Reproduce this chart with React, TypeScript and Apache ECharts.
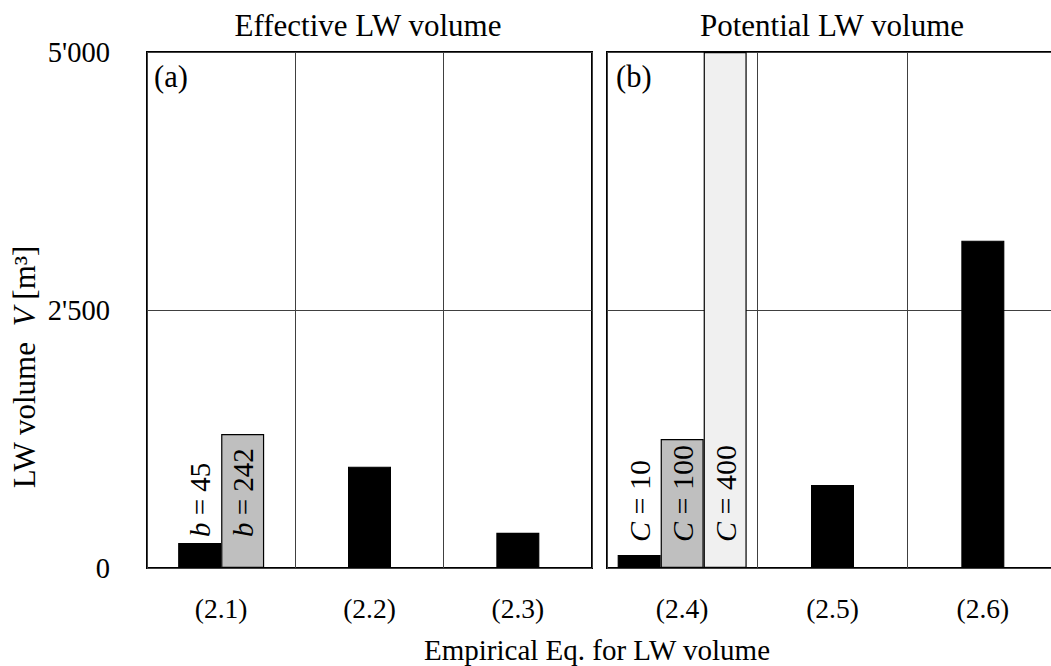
import React, { useEffect, useRef } from "react";
import * as echarts from "echarts";

// Category labels (equation numbers) for the two panels
const effectiveCats = ["(2.1)", "(2.2)", "(2.3)"];
const potentialCats = ["(2.4)", "(2.5)", "(2.6)"];

// Effective LW volume [m³]
const effectiveEq = [null, 982, 342]; // (2.2), (2.3)
const effectiveBWidth = [45, 242]; // b parameter for (2.1)
const effectiveB45 = [242, null, null];
const effectiveB242 = [1298, null, null];

// Potential LW volume [m³]
const potentialEq = [null, 804, 3172]; // (2.5), (2.6)
const potentialCoeff = [10, 100, 400]; // C parameter for (2.4)
const potentialC10 = [126, null, null];
const potentialC100 = [1250, null, null];
const potentialC400 = [5000, null, null];

// Value axis
const yMin = 0;
const yMax = 5000;
const yStep = 2500;

const FONT = "Liberation Serif";
const FS_TICK_X = 27.5;
const FS_TICK_Y = 28.5;
const FS_PARAM_B = 29;
const FS_PARAM_C = 30;
const FS_TITLE = 31;
const FS_XNAME = 29;
const FS_YNAME = 31;
const FS_PANEL = 30.5;

const fmtThousands = (v: number) =>
  String(v).replace(/(\d)(?=(\d{3})+$)/g, "$1'");

const gridLine = { show: true, lineStyle: { color: "#404040", width: 1 } };

function paramLabel(sym: string, val: number, distance: number, fs: number) {
  return {
    show: true,
    position: "insideBottom",
    rotate: 90,
    align: "left",
    verticalAlign: "middle",
    distance,
    formatter: `{i|${sym}} = ${val}`,
    color: "#000",
    fontFamily: FONT,
    fontSize: fs,
    rich: {
      i: { fontStyle: "italic", fontFamily: FONT, fontSize: fs, color: "#000" },
    },
  };
}

function barStyle(color: string) {
  return { color, borderColor: "#000", borderWidth: 1.2 };
}

export default function App() {
  const ref = useRef<HTMLDivElement>(null);

  useEffect(() => {
    if (!ref.current) return;
    const chart = echarts.init(ref.current, null, { renderer: "svg" });

    const catAxis = (gridIndex: number, data: string[], visible: boolean) => ({
      type: "category",
      gridIndex,
      data,
      show: visible,
      axisLine: { show: false },
      axisTick: { show: false },
      axisLabel: {
        show: visible,
        margin: 26,
        color: "#000",
        fontFamily: FONT,
        fontSize: FS_TICK_X,
      },
      splitLine: { ...gridLine, interval: 0 },
    });

    const valAxis = (gridIndex: number, labels: boolean) => ({
      type: "value",
      gridIndex,
      min: yMin,
      max: yMax,
      interval: yStep,
      axisLine: { show: false },
      axisTick: { show: false },
      axisLabel: {
        show: labels,
        margin: 37,
        color: "#000",
        fontFamily: FONT,
        fontSize: FS_TICK_Y,
        formatter: (v: number) => fmtThousands(v),
      },
      splitLine: gridLine,
    });

    const bar = (
      xAxisIndex: number,
      yAxisIndex: number,
      data: (number | null)[],
      color: string,
      label?: object
    ) => ({
      type: "bar",
      xAxisIndex,
      yAxisIndex,
      data,
      barWidth: 43,
      barGap: "0%",
      itemStyle: barStyle(color),
      label: label ?? { show: false },
      emphasis: { disabled: true },
    });

    const text = (x: number, y: number, s: string, fs: number, align = "center") => ({
      type: "text",
      x,
      y,
      style: {
        text: s,
        fontFamily: FONT,
        fontSize: fs,
        fill: "#000",
        align,
        verticalAlign: "middle",
      },
    });

    chart.setOption({
      animation: false,
      backgroundColor: "#fff",
      textStyle: { fontFamily: FONT },
      grid: [
        {
          left: 147,
          top: 52,
          width: 445,
          height: 516,
          show: true,
          borderColor: "#000",
          borderWidth: 2,
          backgroundColor: "transparent",
        },
        {
          left: 607,
          top: 52,
          width: 451,
          height: 516,
          show: true,
          borderColor: "#000",
          borderWidth: 2,
          backgroundColor: "transparent",
        },
      ],
      xAxis: [
        catAxis(0, effectiveCats, true),
        catAxis(0, effectiveCats, false),
        catAxis(1, potentialCats, true),
        catAxis(1, potentialCats, false),
      ],
      yAxis: [valAxis(0, true), valAxis(1, false)],
      series: [
        bar(0, 0, effectiveEq, "#000"),
        bar(1, 0, effectiveB45, "#000", paramLabel("b", effectiveBWidth[0], 31, FS_PARAM_B)),
        bar(1, 0, effectiveB242, "#bfbfbf", paramLabel("b", effectiveBWidth[1], 31, FS_PARAM_B)),
        bar(2, 1, potentialEq, "#000"),
        bar(3, 1, potentialC10, "#000", paramLabel("C", potentialCoeff[0], 26, FS_PARAM_C)),
        bar(3, 1, potentialC100, "#bfbfbf", paramLabel("C", potentialCoeff[1], 26, FS_PARAM_C)),
        bar(3, 1, potentialC400, "#f0f0f0", paramLabel("C", potentialCoeff[2], 26, FS_PARAM_C)),
      ],
      graphic: [
        text(368, 25, "Effective LW volume", FS_TITLE),
        text(832, 25, "Potential LW volume", FS_TITLE),
        text(154, 77, "(a)", FS_PANEL, "left"),
        text(616, 77, "(b)", FS_PANEL, "left"),
        text(597, 650, "Empirical Eq. for LW volume", FS_XNAME),
        {
          type: "text",
          x: 24,
          y: 367,
          rotation: Math.PI / 2,
          style: {
            text: "LW volume  {i|V} [m³]",
            fontFamily: FONT,
            fontSize: FS_YNAME,
            fill: "#000",
            align: "center",
            verticalAlign: "middle",
            rich: {
              i: { fontStyle: "italic", fontFamily: FONT, fontSize: FS_YNAME, fill: "#000" },
            },
          },
        },
      ],
    });

    return () => chart.dispose();
  }, []);

  return (
    <div
      style={{
        position: "absolute",
        left: 0,
        top: 0,
        width: 1051,
        height: 666,
        overflow: "hidden",
        background: "#fff",
      }}
    >
      <div ref={ref} style={{ width: 1070, height: 666 }} />
    </div>
  );
}
